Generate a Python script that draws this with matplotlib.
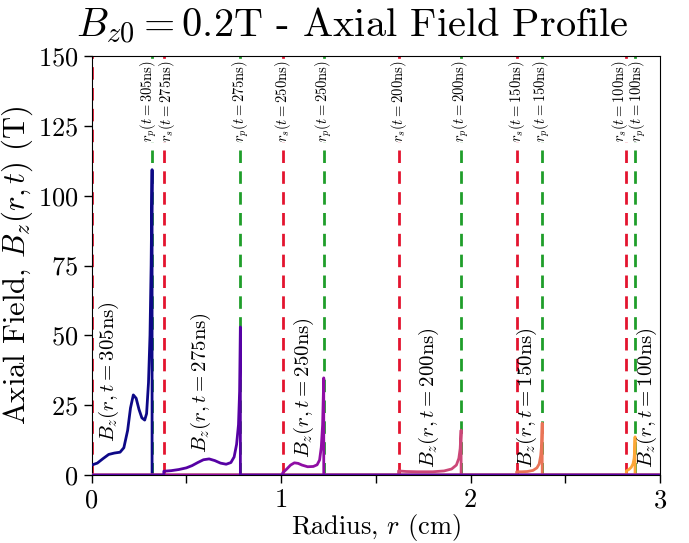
import numpy as np
import matplotlib
matplotlib.use("Agg")
import matplotlib.pyplot as plt

plt.rcParams["font.family"] = "serif"
plt.rcParams["font.serif"] = ["cmr10", "DejaVu Serif"]
plt.rcParams["mathtext.fontset"] = "cm"
plt.rcParams["axes.unicode_minus"] = False
plt.rcParams["axes.formatter.use_mathtext"] = True

# times (ns) and shock / piston radii (cm)
times = [305, 275, 250, 200, 150, 100]
r_shock = [0.0, 0.381, 1.008, 1.62, 2.243, 2.822]
r_piston = [0.319, 0.785, 1.225, 1.95, 2.378, 2.868]

# sampled field profiles B_z(r) between r_s and r_p (T)
r_305 = [0.0, 0.03, 0.06, 0.09, 0.12, 0.15, 0.17, 0.19, 0.205, 0.22, 0.235, 0.25, 0.265, 0.28, 0.29, 0.30, 0.308, 0.314, 0.319]
b_305 = [3.6, 4.3, 5.9, 7.4, 7.9, 8.2, 9.8, 16.0, 24.0, 28.7, 27.5, 23.5, 20.5, 19.7, 22.0, 33.0, 50.0, 75.0, 109.3]

r_275 = [0.381, 0.42, 0.46, 0.50, 0.53, 0.56, 0.59, 0.62, 0.65, 0.68, 0.71, 0.735, 0.752, 0.765, 0.775, 0.781, 0.785]
b_275 = [1.4, 1.6, 2.0, 2.6, 3.4, 4.5, 5.5, 5.8, 5.2, 4.3, 3.9, 4.5, 6.5, 11.0, 18.0, 30.0, 53.0]

r_250 = [1.008, 1.03, 1.05, 1.07, 1.09, 1.11, 1.14, 1.17, 1.19, 1.203, 1.212, 1.219, 1.225]
b_250 = [0.8, 2.2, 3.6, 4.4, 4.2, 3.6, 3.0, 3.1, 3.7, 5.4, 10.0, 18.0, 34.8]

r_200 = [1.62, 1.66, 1.72, 1.80, 1.86, 1.90, 1.925, 1.938, 1.945, 1.95]
b_200 = [1.5, 1.3, 1.2, 1.2, 1.5, 2.2, 3.6, 6.0, 9.5, 16.1]

r_150 = [2.243, 2.27, 2.30, 2.33, 2.35, 2.362, 2.370, 2.375, 2.378]
b_150 = [1.2, 1.2, 1.3, 1.7, 2.6, 4.0, 7.0, 11.0, 18.6]

r_100 = [2.822, 2.835, 2.848, 2.857, 2.863, 2.866, 2.868]
b_100 = [1.5, 2.0, 2.8, 4.0, 6.0, 9.0, 13.7]

profiles_r = [r_305, r_275, r_250, r_200, r_150, r_100]
profiles_b = [b_305, b_275, b_250, b_200, b_150, b_100]
colour_pos = [0.0, 0.15, 0.3, 0.5, 0.65, 0.8]

# curve label anchors (r, B)
label_r = [0.09, 0.575, 1.12, 1.78, 2.30, 2.93]
label_b = [12.0, 8.0, 6.0, 2.5, 2.5, 2.5]

# small sideways nudges for the radius labels where two lines sit close
rs_nudge = [0.0, 0.016, 0.0, 0.0, 0.0, -0.036]
rp_nudge = [-0.018, 0.0, 0.0, 0.0, 0.0, 0.012]

red = "#e3142f"
green = "#1f9e2a"

fig = plt.figure(figsize=(6.89, 5.43), dpi=100)
ax = fig.add_axes([0.133, 0.125, 0.825, 0.772])

bb = dict(facecolor="white", edgecolor="none", pad=0.0)
for i, t in enumerate(times):
    ax.axvline(r_shock[i], color=red, lw=2, ls=(0, (4.5, 3)), zorder=1)
    ax.axvline(r_piston[i], color=green, lw=2, ls=(0, (4.5, 3)), zorder=1)
    if r_shock[i] > 0:
        ax.text(r_shock[i] + rs_nudge[i], 148.5, r"$r_s(t=%d\mathrm{ns})$" % t, rotation=90,
                ha="center", va="top", fontsize=10.5, bbox=bb, zorder=2)
    ax.text(r_piston[i] + rp_nudge[i], 148.5, r"$r_p(t=%d\mathrm{ns})$" % t, rotation=90,
            ha="center", va="top", fontsize=10.5, bbox=bb, zorder=2)

order = [0, 5, 4, 3, 2, 1]
for i in order:
    r = np.concatenate([[0.0], profiles_r[i], [profiles_r[i][-1], 3.0]])
    b = np.concatenate([[0.0], profiles_b[i], [0.0, 0.0]])
    if profiles_r[i][0] == 0.0:
        r = r[1:]
        b = b[1:]
    else:
        r = np.insert(r, 1, profiles_r[i][0])
        b = np.insert(b, 1, 0.0)
    c = plt.cm.plasma(colour_pos[i])
    ax.plot(r, b, color=c, lw=2, zorder=3)
    ax.text(label_r[i], label_b[i], r"$B_z(r,t=%d\mathrm{ns})$" % times[i],
            rotation=90, ha="center", va="bottom", fontsize=15, zorder=4)

ax.set_xlim(0, 3)
ax.set_ylim(0, 150)
ax.set_xticks(np.arange(0, 3.01, 0.5))
ax.set_xticklabels(["0", "", "1", "", "2", "", "3"])
ax.set_yticks(np.arange(0, 151, 25))
ax.tick_params(labelsize=19, length=6, width=1)
ax.set_xlabel(r"Radius, $r$ (cm)", fontsize=19, labelpad=0)
ax.set_ylabel(r"Axial Field, $B_z(r,t)$ (T)", fontsize=22, labelpad=2)
fig.text(0.512, 0.915, r"$B_{z0}=0.2$T - Axial Field Profile", fontsize=29,
         ha="center", va="bottom")

fig.savefig("out.png", dpi=100)
